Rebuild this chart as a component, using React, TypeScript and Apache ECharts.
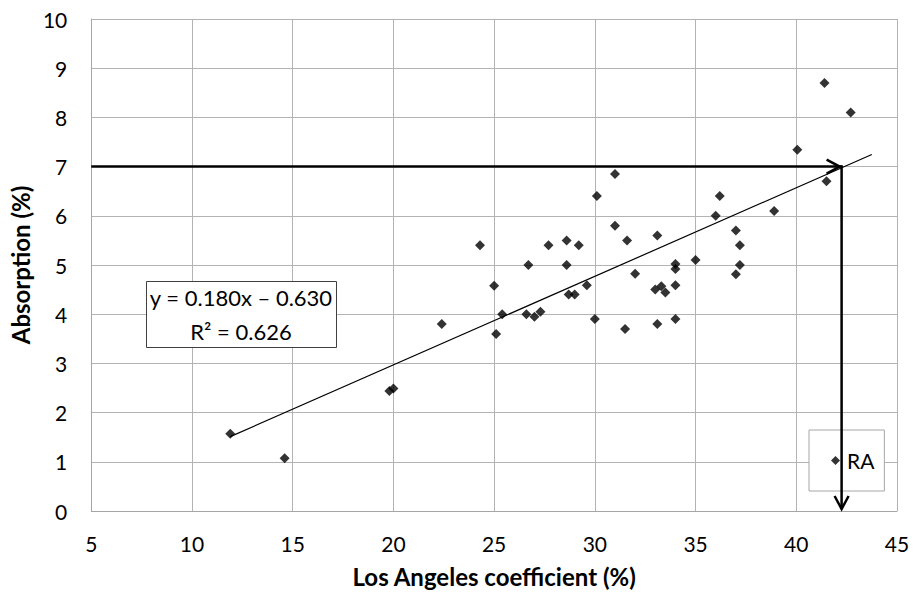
import React, { useEffect, useRef } from "react";
import * as echarts from "echarts";

// Los Angeles coefficient (%) values
const LA_COEF = [
  11.9, 14.6, 19.8, 20.0, 22.4, 24.3, 25.0, 25.1, 25.4, 26.6, 26.7, 27.0,
  27.3, 27.7, 28.6, 28.6, 28.7, 29.0, 29.2, 29.6, 30.0, 30.1, 31.0, 31.0,
  31.5, 31.6, 32.0, 33.0, 33.1, 33.1, 33.3, 33.5, 34.0, 34.0, 34.0, 34.0,
  35.0, 36.0, 36.2, 37.0, 37.0, 37.2, 37.2, 38.9, 40.05, 41.4, 41.5, 42.7,
];
// Absorption (%) values
const ABSORPTION = [
  1.57, 1.07, 2.44, 2.49, 3.8, 5.4, 4.58, 3.6, 4.0, 4.0, 5.0, 3.95,
  4.05, 5.4, 5.5, 5.0, 4.4, 4.4, 5.4, 4.59, 3.9, 6.4, 6.85, 5.8,
  3.7, 5.5, 4.82, 4.5, 5.6, 3.8, 4.57, 4.44, 5.02, 4.92, 4.59, 3.9,
  5.1, 6.0, 6.4, 5.7, 4.81, 5.4, 5.0, 6.1, 7.34, 8.7, 6.7, 8.1,
];
const SERIES_NAME = "RA";
const TREND_SLOPE = 0.18;
const TREND_INTERCEPT = -0.63;
const TREND_X_RANGE = [11.9, 43.75];
const EQUATION_LINES = ["y = 0.180x – 0.630", "R² = 0.626"];
const X_AXIS = { min: 5, max: 45, interval: 5, name: "Los Angeles coefficient (%)" };
const Y_AXIS = { min: 0, max: 10, interval: 1, name: "Absorption (%)" };
const ARROW_POINT = [42.25, 7];

const FONT = "Lato, 'Open Sans', sans-serif";

export default function App() {
  const ref = useRef<HTMLDivElement>(null);

  useEffect(() => {
    if (!ref.current) return;
    const chart = echarts.init(ref.current, null, { renderer: "svg" });

    const scatterData = LA_COEF.map((x, i) => [x, ABSORPTION[i]]);
    const trendData = TREND_X_RANGE.map((x) => [x, TREND_SLOPE * x + TREND_INTERCEPT]);

    const option: any = {
      animation: false,
      backgroundColor: "#ffffff",
      textStyle: { fontFamily: FONT },
      grid: { left: 89, right: 16, top: 19, bottom: 86, containLabel: false },
      legend: {
        data: [{ name: SERIES_NAME, icon: "diamond" }],
        left: 809,
        top: 430,
        orient: "vertical",
        itemWidth: 9,
        itemHeight: 9,
        itemGap: 0,
        padding: [20, 10, 20, 22],
        backgroundColor: "#ffffff",
        borderColor: "#a6a6a6",
        borderWidth: 1,
        textStyle: { fontFamily: FONT, fontSize: 21, color: "#000", padding: [0, 0, 0, 2] },
        selectedMode: false,
        z: 4,
      },
      xAxis: {
        type: "value",
        min: X_AXIS.min,
        max: X_AXIS.max,
        interval: X_AXIS.interval,
        name: X_AXIS.name,
        nameLocation: "middle",
        nameGap: 53,
        nameTextStyle: { fontFamily: FONT, fontSize: 24, fontWeight: "bold", color: "#000" },
        axisLine: { lineStyle: { color: "#a6a6a6", width: 1 } },
        axisTick: { show: false },
        axisLabel: { fontFamily: FONT, fontSize: 21, color: "#000", margin: 22 },
        splitLine: { show: true, lineStyle: { color: "#b3b3b3", width: 1 } },
      },
      yAxis: {
        type: "value",
        min: Y_AXIS.min,
        max: Y_AXIS.max,
        interval: Y_AXIS.interval,
        name: Y_AXIS.name,
        nameLocation: "middle",
        nameGap: 52,
        nameTextStyle: { fontFamily: FONT, fontSize: 24, fontWeight: "bold", color: "#000" },
        axisLine: { show: true, lineStyle: { color: "#a6a6a6", width: 1 } },
        axisTick: { show: false },
        axisLabel: { fontFamily: FONT, fontSize: 21, color: "#000", margin: 24 },
        splitLine: { show: true, lineStyle: { color: "#b3b3b3", width: 1 } },
      },
      series: [
        {
          name: "trend",
          type: "line",
          data: trendData,
          showSymbol: false,
          symbol: "none",
          lineStyle: { color: "#000", width: 1.2 },
          silent: true,
          z: 3,
        },
        {
          name: SERIES_NAME,
          type: "scatter",
          data: scatterData,
          symbol: "diamond",
          symbolSize: 10,
          itemStyle: { color: "#000" },
          z: 4,
        },
        {
          name: "arrows",
          type: "custom",
          data: [ARROW_POINT],
          z: 10,
          silent: true,
          renderItem: (params: any, api: any) => {
            const p = api.coord([api.value(0), api.value(1)]);
            const left = api.coord([X_AXIS.min, api.value(1)]);
            const bottom = api.coord([api.value(0), Y_AXIS.min]);
            const style = { stroke: "#000", lineWidth: 2.5, fill: "none" };
            return {
              type: "group",
              children: [
                { type: "polyline", shape: { points: [left, [p[0] + 1, p[1]]] }, style },
                { type: "polyline", shape: { points: [[p[0], p[1] - 1], [bottom[0], bottom[1] - 2]] }, style },
                {
                  type: "polyline",
                  shape: { points: [[p[0] - 15, p[1] - 7], [p[0] - 2, p[1]], [p[0] - 15, p[1] + 7]] },
                  style,
                },
                {
                  type: "polyline",
                  shape: {
                    points: [[bottom[0] - 7, bottom[1] - 15], [bottom[0], bottom[1] - 2], [bottom[0] + 7, bottom[1] - 15]],
                  },
                  style,
                },
              ],
            };
          },
        },
      ],
      graphic: [
        {
          type: "rect",
          left: 146,
          top: 281,
          shape: { width: 190, height: 66 },
          style: { fill: "#ffffff", stroke: "#404040", lineWidth: 1 },
          z: 20,
        },
        {
          type: "text",
          x: 241,
          y: 297,
          style: {
            text: EQUATION_LINES[0],
            fontFamily: FONT,
            fontSize: 22,
            fill: "#000",
            align: "center",
            verticalAlign: "middle",
          },
          z: 21,
        },
        {
          type: "text",
          x: 241,
          y: 331,
          style: {
            text: EQUATION_LINES[1],
            fontFamily: FONT,
            fontSize: 22,
            fill: "#000",
            align: "center",
            verticalAlign: "middle",
          },
          z: 21,
        },
      ],
    };

    chart.setOption(option);
    return () => chart.dispose();
  }, []);

  return (
    <div
      ref={ref}
      style={{ position: "fixed", left: 0, top: 0, width: 913, height: 597, background: "#fff" }}
    />
  );
}
